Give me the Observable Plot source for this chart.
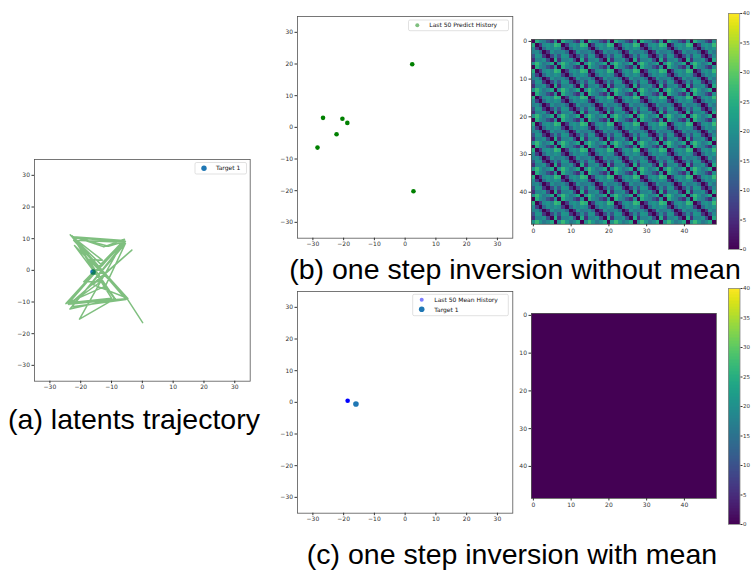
<!DOCTYPE html>
<html><head><meta charset="utf-8">
<script src="https://cdn.jsdelivr.net/npm/d3@7"></script>
<script src="https://cdn.jsdelivr.net/npm/@observablehq/plot@0.6"></script>
<style>
html,body{margin:0;padding:0;background:#fff;overflow:hidden}
#root{position:relative;width:751px;height:571px;overflow:hidden;background:#fff}
#root > *{position:absolute}
</style></head><body><div id="root"></div>
<script>
// ---------------- data ----------------
const axisTicks = [-30, -20, -10, 0, 10, 20, 30];
const matrixTicks = [0, 10, 20, 30, 40];
const colorbarTicks = [0, 5, 10, 15, 20, 25, 30, 35, 40];

// (a) latent trajectory (x, y)
const trajectoryX = [0.1, -4.9, -22.8, -10, -24.5, -6, -22.3, -5.2, -17, -13, -23.2, -5.3, -22.8, -5.5, -11, -22.5, -6, -19, -13.5, -23.8, -3.4, -16, -4.8, -22, -9, -20.4, -5.8, -12.5, -22.8, -8.8, -23.5, -5.5, -12, -24.8, -6, -23.8, -5, -23.4, -13, -6.2, -22.6, -4.7, -24];
const trajectoryY = [-16.5, -9, 10.9, -8.8, -10.3, 8.9, 9.5, -8.6, 3.4, 3.2, 11, -9.2, -11.5, 9.2, 7.6, 10.6, 9.4, -3.6, -3.6, -10.8, 6.4, -4.5, -8.8, 7.8, -9, -15.4, 9.8, 7.4, 10.8, -9, -12.2, 8.5, -5, -10.5, 9.6, -10.2, -9, 11.2, 1.5, 9.1, 10.3, -8.9, -10.7];
const targetX = [-16];
const targetY = [-0.5];

// (b) last 50 predictions (7 distinct positions)
const predictX = [2.3, 2.7, -26.7, -20.4, -18.8, -22.3, -28.5];
const predictY = [19.9, -20.2, 3.0, 2.7, 1.4, -2.2, -6.4];

// (c) last 50 mean predictions
const meanX = [-18.7];
const meanY = [0.5];

// distance matrices: history index -> state, state distance table
const predictStateSeq = [0,1,2,3,4,5,6, 0,1,2,3,4,5,6, 0,1,2,3,4,5,6, 0,1,2,3,4,5,6, 0,1,2,3,4,5,6, 0,1,2,3,4,5,6, 0,1,2,3,4,5,6];
const predictStateDist = [
  [ 0, 25, 19, 17, 10,  5, 20],
  [25,  0,  7, 19, 21, 18, 27],
  [19,  7,  0, 13, 20, 18, 21],
  [17, 19, 13,  0,  6, 20, 16],
  [10, 21, 20,  6,  0,  9, 19],
  [ 5, 18, 18, 20,  9,  0, 24],
  [20, 27, 21, 16, 19, 24,  0]
];
const meanStateSeq = [0,0,0,0,0,0,0, 0,0,0,0,0,0,0, 0,0,0,0,0,0,0, 0,0,0,0,0,0,0, 0,0,0,0,0,0,0, 0,0,0,0,0,0,0, 0,0,0,0,0,0,0];
const meanStateDist = [[0]];

// ---------------- drawing ----------------
const root = document.getElementById("root");
const FONT = "DejaVu Sans, sans-serif";
const fmt = d => d < 0 ? "\u2212" + (-d) : String(d);
const styleBase = {background: "transparent", fontFamily: FONT, fontSize: "6px", color: "#333", overflow: "visible"};

function place(svg, left, top) {
  svg.style.left = left + "px";
  svg.style.top = top + "px";
  root.append(svg);
}

function scatterPanel(frame, marks) {
  const ml = 30, mr = 6, mt = 6, mb = 16;
  const w = frame.x1 - frame.x0, h = frame.y1 - frame.y0;
  const p = Plot.plot({
    width: w + ml + mr, height: h + mt + mb,
    marginLeft: ml, marginRight: mr, marginTop: mt, marginBottom: mb,
    style: styleBase,
    x: {domain: [-35, 35], label: null},
    y: {domain: [-35, 35], label: null},
    marks: [
      ...marks,
      Plot.frame({stroke: "#555", strokeWidth: 0.8}),
      Plot.axisX({ticks: axisTicks, tickFormat: fmt, tickSize: 2.5, tickPadding: 1.5, fontSize: 6, label: null}),
      Plot.axisY({ticks: axisTicks, tickFormat: fmt, tickSize: 2.5, tickPadding: 2, fontSize: 6, label: null})
    ]
  });
  place(p, frame.x0 - ml, frame.y0 - mt);
}

function matrixPanel(frame, seq, dist) {
  const cells = [];
  seq.forEach((si, i) => seq.forEach((sj, j) => cells.push({row: i, col: j, v: dist[si][sj]})));
  const ml = 20, mr = 4, mt = 4, mb = 14;
  const w = frame.x1 - frame.x0, h = frame.y1 - frame.y0;
  const p = Plot.plot({
    width: w + ml + mr, height: h + mt + mb,
    marginLeft: ml, marginRight: mr, marginTop: mt, marginBottom: mb,
    style: styleBase,
    x: {domain: [-0.5, seq.length - 0.5], label: null},
    y: {domain: [-0.5, seq.length - 0.5], reverse: true, label: null},
    color: {type: "linear", scheme: "viridis", domain: [0, 40]},
    marks: [
      Plot.rect(cells, {x1: d => d.col - 0.5, x2: d => d.col + 0.5, y1: d => d.row - 0.5, y2: d => d.row + 0.5,
        fill: "v", shapeRendering: "crispEdges"}),
      Plot.frame({stroke: "#555", strokeWidth: 0.8}),
      Plot.axisX({ticks: matrixTicks, tickSize: 2.5, tickPadding: 1.5, fontSize: 6, label: null}),
      Plot.axisY({ticks: matrixTicks, tickSize: 2.5, tickPadding: 2, fontSize: 6, label: null})
    ]
  });
  place(p, frame.x0 - ml, frame.y0 - mt);
}

function colorbarPanel(frame) {
  const steps = d3.range(0, 40, 0.25);
  const ml = 0, mr = 12, mt = 4, mb = 4;
  const w = frame.x1 - frame.x0, h = frame.y1 - frame.y0;
  const p = Plot.plot({
    width: w + ml + mr, height: h + mt + mb,
    marginLeft: ml, marginRight: mr, marginTop: mt, marginBottom: mb,
    style: styleBase,
    x: {domain: [0, 1], axis: null},
    y: {domain: [0, 40], label: null},
    color: {type: "linear", scheme: "viridis", domain: [0, 40]},
    marks: [
      Plot.rect(steps, {x1: 0, x2: 1, y1: d => d, y2: d => d + 0.25, fill: d => d + 0.125, shapeRendering: "crispEdges"}),
      Plot.frame({stroke: "#888", strokeWidth: 0.8}),
      Plot.axisY({anchor: "right", ticks: colorbarTicks, tickSize: 2, tickPadding: 1, fontSize: 5.5, label: null})
    ]
  });
  place(p, frame.x0 - ml, frame.y0 - mt);
}

// (a)
scatterPanel({x0: 34.3, x1: 250, y0: 159.3, y1: 381}, [
  Plot.dot(targetX.map((x, i) => ({x, y: targetY[i]})), {x: "x", y: "y", r: 2.8, fill: "#1f77b4"}),
  Plot.line(trajectoryX.map((x, i) => ({x, y: trajectoryY[i]})), {x: "x", y: "y", stroke: "green", strokeOpacity: 0.5, strokeWidth: 1.5})
]);

// (b)
scatterPanel({x0: 297, x1: 512.3, y0: 16, y1: 237.7}, [
  Plot.dot(predictX.map((x, i) => ({x, y: predictY[i]})), {x: "x", y: "y", r: 2.3, fill: "green"})
]);
matrixPanel({x0: 531, x1: 716, y0: 38.5, y1: 223.3}, predictStateSeq, predictStateDist);
colorbarPanel({x0: 728.3, x1: 739.5, y0: 13.3, y1: 249.5});

// (c)
scatterPanel({x0: 297, x1: 512.3, y0: 291, y1: 512.7}, [
  Plot.dot(meanX.map((x, i) => ({x, y: meanY[i]})), {x: "x", y: "y", r: 2.3, fill: "blue"}),
  Plot.dot(targetX.map((x, i) => ({x, y: targetY[i]})), {x: "x", y: "y", r: 2.8, fill: "#1f77b4"})
]);
matrixPanel({x0: 531, x1: 716, y0: 313.3, y1: 498.3}, meanStateSeq, meanStateDist);
colorbarPanel({x0: 728, x1: 739.5, y0: 288.3, y1: 524.3});

// legends and captions
const ns = "http://www.w3.org/2000/svg";
const overlay = document.createElementNS(ns, "svg");
overlay.setAttribute("width", 751); overlay.setAttribute("height", 571);
overlay.style.left = "0px"; overlay.style.top = "0px";
overlay.innerHTML = `
<g font-family="DejaVu Sans, sans-serif" font-size="6" fill="#111">
  <rect x="195" y="162.5" width="51.5" height="11.5" rx="1.5" fill="#fff" fill-opacity="0.85" stroke="#ccc" stroke-width="0.6"/>
  <circle cx="204" cy="168.2" r="2.7" fill="#1f77b4"/>
  <text x="216" y="170.3">Target 1</text>

  <rect x="408.5" y="20" width="100" height="10.7" rx="1.5" fill="#fff" fill-opacity="0.85" stroke="#ccc" stroke-width="0.6"/>
  <circle cx="417.3" cy="25.2" r="2" fill="green" fill-opacity="0.5"/>
  <text x="429.3" y="27.4">Last 50 Predict History</text>

  <rect x="412.7" y="294.3" width="95.6" height="21.4" rx="1.5" fill="#fff" fill-opacity="0.85" stroke="#ccc" stroke-width="0.6"/>
  <circle cx="421.7" cy="299.7" r="2" fill="blue" fill-opacity="0.5"/>
  <text x="434.3" y="301.9">Last 50 Mean History</text>
  <circle cx="421.7" cy="309.3" r="2.8" fill="#1f77b4"/>
  <text x="434.3" y="311.5">Target 1</text>
</g>
<g font-family="Liberation Sans, Arial, sans-serif" font-size="28.5" fill="#000" text-anchor="middle">
  <text x="134" y="429">(a) latents trajectory</text>
  <text x="515" y="279">(b) one step inversion without mean</text>
  <text x="512" y="564">(c) one step inversion with mean</text>
</g>`;
root.append(overlay);
</script>
</body></html>
